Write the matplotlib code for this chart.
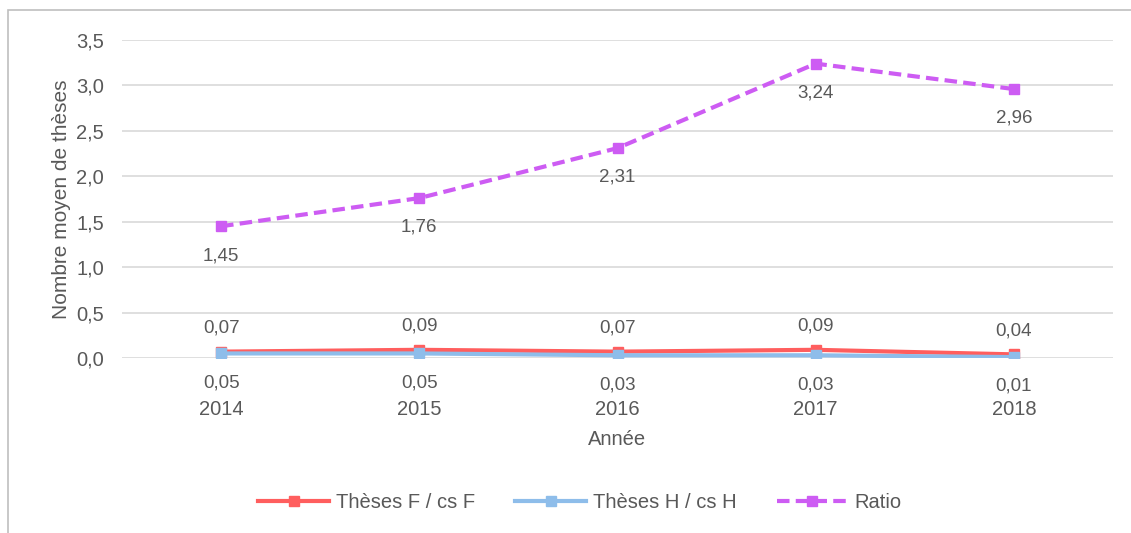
import matplotlib
matplotlib.use("Agg")
from matplotlib import pyplot as plt
from matplotlib.patches import Rectangle

years = ["2014", "2015", "2016", "2017", "2018"]
theses_f = [0.07, 0.09, 0.07, 0.09, 0.04]
theses_h = [0.05, 0.05, 0.03, 0.03, 0.01]
ratio = [1.45, 1.76, 2.31, 3.24, 2.96]

plt.rcParams['font.family'] = ['Liberation Sans', 'DejaVu Sans']
grey = "#595959"

fig = plt.figure(figsize=(11.31, 5.33), dpi=100)
ax = fig.add_axes([122 / 1131, 1 - 358 / 533, (1113 - 122) / 1131, (358 - 40) / 533])

# cadre du graphique (coupé à droite et en bas)
fig.patches.append(Rectangle((8 / 1131, -0.05), 1.2, 1 - 10 / 533 + 0.05,
                             transform=fig.transFigure, fill=False,
                             edgecolor="#BFBFBF", linewidth=1.2))

x = list(range(len(years)))
red = "#FF5E5E"
blue = "#8EBDEA"
purple = "#CD5CF3"

ax.plot(x, theses_f, color=red, linewidth=3, marker="s", markersize=7,
        label="Thèses F / cs F", zorder=3)
ax.plot(x, theses_h, color=blue, linewidth=3, marker="s", markersize=7,
        label="Thèses H / cs H", zorder=4)
ax.plot(x, ratio, color=purple, linewidth=3, linestyle=(0, (3, 1.5)), marker="s",
        markersize=7, label="Ratio", zorder=3)

def fmt(v):
    return f"{v:.2f}".replace(".", ",")

for i in x:
    ax.annotate(fmt(theses_f[i]), (i, theses_f[i]), xytext=(0, 11), textcoords="offset points",
                ha="center", va="bottom", fontsize=13.5, color=grey)
    ax.annotate(fmt(theses_h[i]), (i, theses_h[i]), xytext=(0, -15), textcoords="offset points",
                ha="center", va="top", fontsize=13.5, color=grey)
    ax.annotate(fmt(ratio[i]), (i, ratio[i]), xytext=(0, -15), textcoords="offset points",
                ha="center", va="top", fontsize=13.5, color=grey)

ax.set_xlim(-0.5, len(years) - 0.5)
ax.set_ylim(0, 3.5)
ax.set_yticks([0, 0.5, 1, 1.5, 2, 2.5, 3, 3.5])
ax.set_yticklabels([f"{t:.1f}".replace(".", ",") for t in ax.get_yticks()])
ax.set_xticks(x)
ax.set_xticklabels(years)
ax.tick_params(axis="both", length=0, labelsize=14.5, colors=grey)
ax.tick_params(axis="x", pad=30)
ax.tick_params(axis="y", pad=13)
ax.grid(axis="y", color="#D9D9D9", linewidth=1.2)
ax.set_axisbelow(True)
for s in ax.spines.values():
    s.set_visible(False)

ax.set_ylabel("Nombre moyen de thèses", fontsize=15, color=grey, labelpad=4)
ax.set_xlabel("Année", fontsize=14.5, color=grey, labelpad=8)

fig.legend(loc="center", bbox_to_anchor=(580 / 1131, 1 - 503 / 533), ncol=3, frameon=False,
           fontsize=14.5, labelcolor=grey, handlelength=3.5, columnspacing=2.0,
           handletextpad=0.35)

fig.savefig("out.png", dpi=100)
